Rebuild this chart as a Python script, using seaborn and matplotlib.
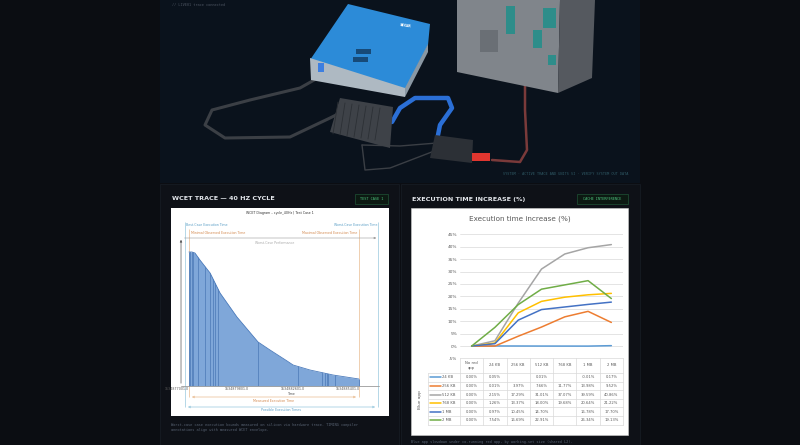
import numpy as np
import pandas as pd
import seaborn as sns
import matplotlib
matplotlib.use("Agg")
from matplotlib import pyplot as plt
from matplotlib.patches import Rectangle, Polygon

# ---- right panel: execution time increase (%) ----
red_app = ["No red\napp", "24 KB", "256 KB", "512 KB", "768 KB", "1 MB", "2 MB"]
blue_app = ["24 KB", "256 KB", "512 KB", "768 KB", "1 MB", "2 MB"]
inc_24kb = [0.00, 0.05, np.nan, 0.01, np.nan, -0.01, 0.17]
inc_256kb = [0.00, 0.01, 3.97, 7.66, 11.77, 13.98, 9.52]
inc_512kb = [0.00, 2.15, 17.29, 31.01, 37.07, 39.59, 40.86]
inc_768kb = [0.00, 1.26, 13.37, 18.00, 19.68, 20.64, 21.22]
inc_1mb = [0.00, 0.97, 10.45, 14.70, np.nan, 16.78, 17.70]
inc_2mb = [0.00, 7.54, 16.69, 22.91, np.nan, 26.34, 19.13]
y_ticks = [-5, 0, 5, 10, 15, 20, 25, 30, 35, 40, 45]
series_colors = ["#5B9BD5", "#ED7D31", "#A5A5A5", "#FFC000", "#4472C4", "#70AD47"]

# ---- left panel: WCET trace (time axis 0..100, count axis) ----
wcet_x = [4.0, 5.5, 7.0, 9.5, 14.6, 19.6, 28.1, 38.7, 44.7, 53.3, 56.3, 64.8, 76.4, 89.4]
wcet_y = [134, 134, 133, 126, 113, 93, 69, 44, 36, 25, 21, 16, 11, 7]
spike_x = [4.3, 5.5, 6.0, 8.5, 12.0, 14.6, 16.0, 17.0, 18.6, 38.7, 58.8, 70.9, 72.4, 73.4, 73.9, 77.4]
time_ticks = [-2, 28, 56, 84]
time_labels = ["1534877001.0", "1534879801.0", "1534882601.0", "1534885401.0"]
bcet, wcet = 2.0, 99.0
min_obs, max_obs = 4.0, 89.4

W, H = 800, 445
PAGE = "#0b0d12"


def px_axes(fig, x0, y0, x1, y1):
    return fig.add_axes([x0 / W, 1 - y1 / H, (x1 - x0) / W, (y1 - y0) / H])


sns.set_style("white")
plt.rcParams["font.family"] = ["DejaVu Sans"]

fig = plt.figure(figsize=(8, 4.45), dpi=100, facecolor=PAGE)
bg = px_axes(fig, 0, 0, W, H)
bg.set_xlim(0, W)
bg.set_ylim(H, 0)
bg.axis("off")

# photo area with a rough sketch of the hardware setup
bg.add_patch(Rectangle((160, 0), 480, 183, fc="#0a121c", ec="none"))
cable = dict(solid_capstyle="round", zorder=2)
bg.plot([323, 300, 250, 212, 205, 225, 290, 330, 342], [75, 88, 100, 110, 125, 138, 137, 118, 112],
        color="#3b3f45", lw=2.2, **cable)
bg.plot([392, 400, 415, 448, 452, 440, 438], [122, 108, 98, 98, 108, 125, 135], color="#2b6fd6", lw=3.2, **cable)
bg.plot([525, 525, 527, 520, 492], [86, 110, 150, 162, 160], color="#7a3a3a", lw=1.8, **cable)
bg.plot([362, 365, 390, 437], [145, 170, 168, 150], color="#3b3f45", lw=1.0, **cable)
bg.plot([362, 400, 437], [145, 146, 143], color="#3b3f45", lw=1.0, **cable)
bg.add_patch(Polygon([(348, 4), (430, 24), (428, 45), (405, 90), (310, 60)], fc="#2c8bd8", ec="none", zorder=3))
bg.add_patch(Polygon([(310, 58), (405, 88), (405, 97), (311, 80)], fc="#aeb9c2", ec="none", zorder=3))
bg.add_patch(Polygon([(405, 88), (428, 44), (428, 52), (405, 97)], fc="#8a98a4", ec="none", zorder=3))
bg.add_patch(Rectangle((356, 49), 15, 5, fc="#174a78", ec="none", zorder=4))
bg.add_patch(Rectangle((353, 57), 15, 5, fc="#174a78", ec="none", zorder=4))
bg.add_patch(Rectangle((318, 63), 6, 9, fc="#3d7fe0", ec="none", zorder=4))
bg.text(400, 28, "NEXAR", fontsize=2.2, color="white", weight="bold", rotation=-8, zorder=5)
bg.add_patch(Polygon([(457, 0), (560, 0), (558, 93), (457, 72)], fc="#80858b", ec="none", zorder=3))
bg.add_patch(Polygon([(560, 0), (595, 0), (592, 78), (558, 93)], fc="#55595f", ec="none", zorder=3))
for rx, ry, rw, rh in [(506, 6, 9, 28), (543, 8, 13, 20), (533, 30, 9, 18), (548, 55, 8, 10)]:
    bg.add_patch(Rectangle((rx, ry), rw, rh, fc="#2e8d8a", ec="none", zorder=4))
bg.add_patch(Rectangle((480, 30), 18, 22, fc="#6a6f75", ec="none", zorder=4))
bg.add_patch(Polygon([(340, 98), (393, 107), (390, 148), (330, 132)], fc="#3e4248", ec="none", zorder=3))
for k in range(7):
    bg.plot([338 + k * 7, 333 + k * 7], [102 + k, 134 + k], color="#2c3035", lw=0.6, zorder=4)
bg.add_patch(Polygon([(435, 135), (473, 140), (472, 163), (430, 158)], fc="#2c3036", ec="none", zorder=3))
bg.add_patch(Rectangle((472, 153), 18, 8, fc="#e0362f", ec="none", zorder=4))
bg.text(172, 5, "// LIVE01 trace connected", fontsize=2.6, color="#4b5360", family="DejaVu Sans Mono", va="center")
bg.text(628, 174, "SYSTEM · ACTIVE TRACE AND UNITS SI · VERIFY SYSTEM OUT DATA", fontsize=2.5,
        color="#2f5a66", family="DejaVu Sans Mono", ha="right", va="center")

# panels, headings, badges, captions
for x0 in (160, 401):
    bg.add_patch(Rectangle((x0, 184), 239, 262, fc="#0e1117", ec="#161b23", lw=0.6))
bg.text(172, 199, "WCET TRACE — 40 HZ CYCLE", fontsize=4.6, weight="bold", color="#e4e7ec", va="center")
bg.text(412, 199, "EXECUTION TIME INCREASE (%)", fontsize=4.6, weight="bold", color="#e4e7ec", va="center")
for bx, bw, txt in [(355, 33, "TEST CASE 1"), (577, 51, "CACHE INTERFERENCE")]:
    bg.add_patch(Rectangle((bx, 194), bw, 10, fc="#0c1912", ec="#1f5236", lw=0.5))
    bg.text(bx + bw / 2, 199.3, txt, fontsize=2.6, color="#4cc07c", family="DejaVu Sans Mono",
            ha="center", va="center")
bg.text(171, 425, "Worst-case case execution bounds measured on silicon via hardware trace. TIMING compiler",
        fontsize=2.6, color="#566070", family="DejaVu Sans Mono", va="center")
bg.text(171, 430.5, "annotations align with measured WCET envelope.",
        fontsize=2.6, color="#566070", family="DejaVu Sans Mono", va="center")
bg.text(411, 442, "Blue app slowdown under co-running red app, by working-set size (shared L2).",
        fontsize=2.6, color="#566070", family="DejaVu Sans Mono", va="center")
bg.add_patch(Rectangle((411, 208), 217, 227, fc="white", ec="#d0d0d0", lw=0.4))

# ---- left chart ----
axL = px_axes(fig, 171, 208, 389, 416)
axL.set_facecolor("white")
axL.set_xlim(-5.03, 104.5)
axL.set_ylim(-30, 178)
axL.set_xticks([])
axL.set_yticks([])
for s in axL.spines.values():
    s.set_visible(False)

fill = axL.fill_between(wcet_x, 0, wcet_y, color="#7fa7d9", lw=0, zorder=2)
sns.lineplot(x=wcet_x, y=wcet_y, ax=axL, color="#4d7cbc", lw=0.6, sort=False, estimator=None, zorder=3)
axL.vlines([wcet_x[0], wcet_x[-1]], 0, [wcet_y[0], wcet_y[-1]], color="#4d7cbc", lw=0.6, zorder=3)
sp = axL.vlines(spike_x, 0, 150, color="#4a78b6", lw=0.5, zorder=3)
sp.set_clip_path(fill.get_paths()[0], transform=axL.transData)

blue_c, blue_t = "#a9d1e3", "#5b9fc6"
org_c, org_t = "#edc7a3", "#d48b52"
gray = "#9a9a9a"
axL.vlines([bcet, wcet], -21, 164, color=blue_c, lw=0.6, zorder=1)
axL.vlines([min_obs, max_obs], -11, 157, color=org_c, lw=0.6, zorder=1)
axL.plot([0, 99.5], [0, 0], color=gray, lw=0.6, zorder=4)
axL.annotate("", xy=(0, 149), xytext=(0, 0),
             arrowprops=dict(arrowstyle="-|>", color="#555555", lw=0.5, mutation_scale=3))
axL.annotate("", xy=(99.5, 148), xytext=(0.3, 148),
             arrowprops=dict(arrowstyle="-|>", color=gray, lw=0.4, mutation_scale=3))
axL.annotate("", xy=(max_obs, -11), xytext=(min_obs, -11),
             arrowprops=dict(arrowstyle="<|-|>", color=org_c, lw=0.6, mutation_scale=3))
axL.annotate("", xy=(wcet, -21), xytext=(bcet, -21),
             arrowprops=dict(arrowstyle="<|-|>", color=blue_c, lw=0.6, mutation_scale=3))

small = dict(fontsize=2.3, va="center")
axL.text(49.7, 173, "WCET Diagram – cycle_40Hz | Test Case 1", ha="center", color="#333333", **small)
axL.text(bcet + 0.5, 160.5, "Best-Case Execution Time", ha="left", color=blue_t, **small)
axL.text(wcet - 0.5, 160.5, "Worst-Case Execution Time", ha="right", color=blue_t, **small)
axL.text(min_obs + 1, 153, "Minimal Observed Execution Time", ha="left", color=org_t, **small)
axL.text(max_obs - 1, 153, "Maximal Observed Execution Time", ha="right", color=org_t, **small)
axL.text(47, 143, "Worst-Case Performance", ha="center", color="#aaaaaa", **small)
for tx, tl in zip(time_ticks, time_labels):
    axL.text(tx, -3.5, tl, ha="center", color="#555555", **small)
axL.text(55.8, -8, "Time", ha="center", color="#555555", **small)
axL.text(46.7, -15, "Measured Execution Time", ha="center", color=org_t, **small)
axL.text(50.5, -24, "Possible Execution Times", ha="center", color=blue_t, **small)

# ---- right chart: lines ----
rows = []
for name, vals in zip(blue_app, [inc_24kb, inc_256kb, inc_512kb, inc_768kb, inc_1mb, inc_2mb]):
    for pos, v in enumerate(vals):
        rows.append({"blue_app": name, "pos": pos, "increase": v})
df = pd.DataFrame(rows).dropna()

axR = px_axes(fig, 460, 234.3, 623, 358.5)
axR.set_facecolor("none")
sns.lineplot(data=df, x="pos", y="increase", hue="blue_app", hue_order=blue_app, palette=series_colors,
             ax=axR, legend=False, lw=1.1, estimator=None, sort=False, zorder=3)
axR.set_xlim(-0.5, 6.5)
axR.set_ylim(-5, 45)
axR.set_yticks(y_ticks)
axR.set_yticklabels([f"{t}%" for t in y_ticks], fontsize=3.1, color="#595959")
axR.set_xticks([])
axR.set_xlabel("")
axR.set_ylabel("")
axR.tick_params(axis="y", length=0, pad=2)
axR.grid(axis="y", color="#d9d9d9", lw=0.5)
for s in axR.spines.values():
    s.set_visible(False)
bg.text(519.5, 219, "Execution time increase (%)", fontsize=5.2, color="#595959", ha="center", va="center")

# ---- right chart: data table under the axis ----
col_w = (623 - 460) / len(red_app)
col_edges = [460 + col_w * i for i in range(len(red_app) + 1)]
head_top, head_bot, row_h = 358, 373, 8.6
tb = dict(color="#d9d9d9", lw=0.5)
bg.plot([col_edges[0], col_edges[-1]], [head_top, head_top], **tb)
for x in col_edges:
    bg.plot([x, x], [head_top, head_bot + row_h * len(blue_app)], **tb)
bg.plot([428, 428], [head_bot, head_bot + row_h * len(blue_app)], **tb)
for r in range(len(blue_app) + 1):
    y = head_bot + row_h * r
    bg.plot([428, col_edges[-1]], [y, y], **tb)
cell = dict(fontsize=2.7, color="#595959", ha="center", va="center")
for i, lab in enumerate(red_app):
    bg.text(col_edges[i] + col_w / 2, (head_top + head_bot) / 2, lab, linespacing=1.2, **cell)
all_vals = [inc_24kb, inc_256kb, inc_512kb, inc_768kb, inc_1mb, inc_2mb]
for r, (name, vals, c) in enumerate(zip(blue_app, all_vals, series_colors)):
    yc = head_bot + row_h * (r + 0.5)
    bg.plot([430, 441], [yc, yc], color=c, lw=1.1)
    bg.text(441.5, yc, name, fontsize=2.7, color="#595959", ha="left", va="center")
    for i, v in enumerate(vals):
        if not np.isnan(v):
            bg.text(col_edges[i] + col_w / 2, yc, f"{v:.2f}%", **cell)
bg.text(420, 400, "Blue app", fontsize=3.1, color="#595959", rotation=90, ha="center", va="center")

fig.savefig("out.png", dpi=100, facecolor=PAGE)
